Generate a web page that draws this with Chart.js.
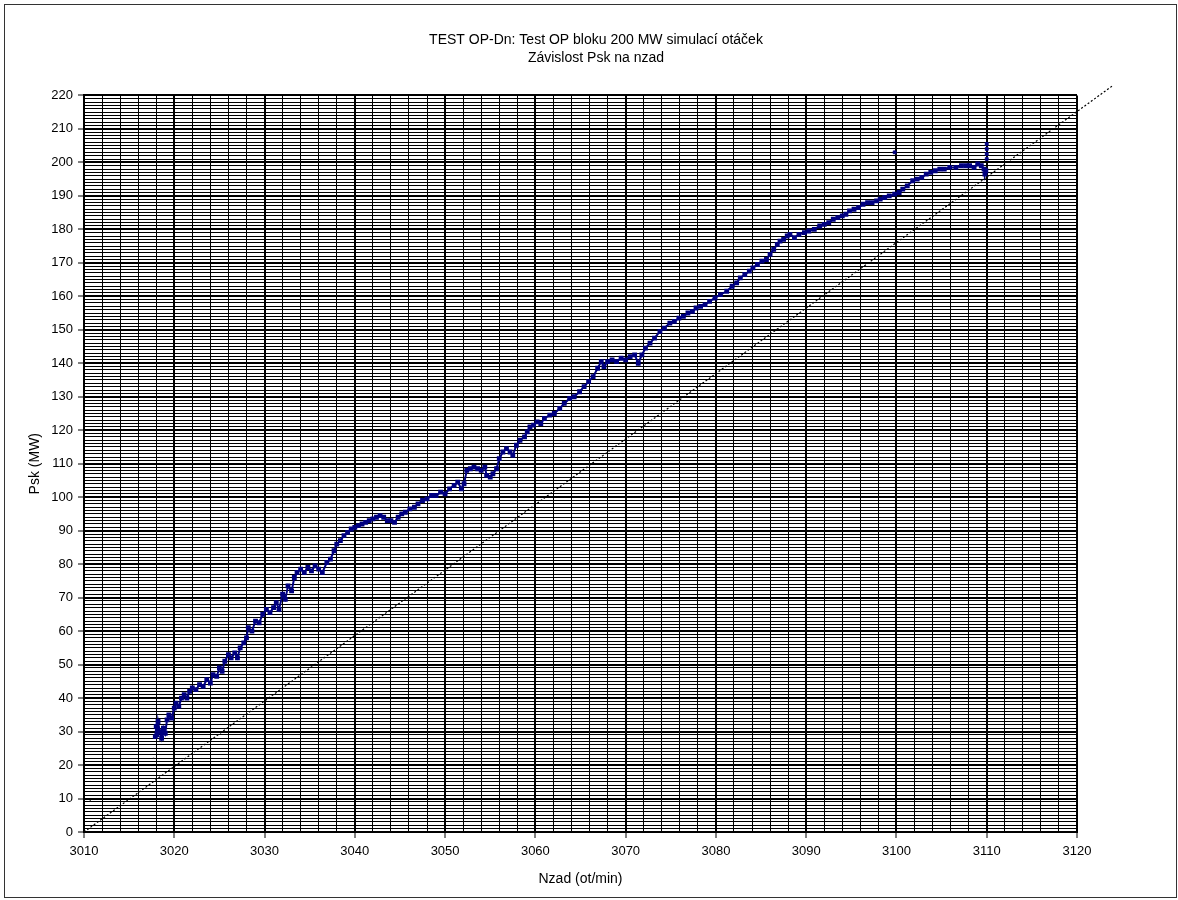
<!DOCTYPE html>
<html>
<head>
<meta charset="utf-8">
<script src="https://cdn.jsdelivr.net/npm/chart.js@4"></script>
<style>
  html, body { margin: 0; padding: 0; background: #fff; }
  #wrap { position: relative; width: 1178px; height: 900px; }
  #frame { position: absolute; left: 4px; top: 4px; width: 1173px; height: 894px;
           border: 1px solid #333; box-sizing: border-box; pointer-events: none; }
</style>
</head>
<body>
<div id="wrap">
  <canvas id="chart" width="1178" height="900"></canvas>
  <div id="frame"></div>
</div>
<script>
// Nzad (ot/min) vs Psk (MW)
const nzad = [
  3017.9, 3018.0, 3018.1, 3018.2, 3018.4, 3018.6, 3018.8, 3019.0, 3019.2, 3019.4,
  3019.7, 3020.0, 3020.2, 3020.5, 3020.8, 3021.1, 3021.4, 3021.7, 3022.0, 3022.4,
  3022.8, 3023.2, 3023.6, 3024.0, 3024.3, 3024.7, 3025.0, 3025.3, 3025.6, 3026.0,
  3026.3, 3026.7, 3027.0, 3027.3, 3027.7, 3028.0, 3028.2, 3028.6, 3029.0, 3029.4,
  3029.8, 3030.2, 3030.6, 3031.0, 3031.3, 3031.6, 3032.0, 3032.3, 3032.6, 3033.0,
  3033.3, 3033.6, 3034.0, 3034.4, 3034.8, 3035.2, 3035.6, 3036.0, 3036.4, 3036.9,
  3037.3, 3037.7, 3038.0, 3038.4, 3038.8, 3039.2, 3039.6, 3040.0, 3040.4, 3040.8,
  3041.2, 3041.6, 3042.0, 3042.4, 3042.8, 3043.2, 3043.6, 3044.0, 3044.4, 3044.8,
  3045.2, 3045.6, 3046.1, 3046.6, 3047.0, 3047.5, 3048.0, 3048.5, 3049.0, 3049.5,
  3050.0, 3050.5, 3051.0, 3051.4, 3051.8, 3052.1, 3052.4, 3052.8, 3053.2, 3053.6,
  3054.0, 3054.4, 3054.6, 3055.0, 3055.3, 3055.7, 3056.0, 3056.4, 3056.8, 3057.2,
  3057.5, 3057.9, 3058.3, 3058.8, 3059.1, 3059.4, 3059.8, 3060.2, 3060.6, 3061.0,
  3061.6, 3062.1, 3062.7, 3063.2, 3063.8, 3064.3, 3064.9, 3065.4, 3065.9, 3066.4,
  3066.9, 3067.3, 3067.6, 3068.0, 3068.5, 3069.0, 3069.5, 3070.0, 3070.5, 3071.0,
  3071.4, 3071.8, 3072.2, 3072.7, 3073.2, 3073.8, 3074.3, 3074.9, 3075.4, 3075.9,
  3076.4, 3076.9, 3077.4, 3077.8, 3078.3, 3078.8, 3079.3, 3079.9, 3080.5, 3081.2,
  3081.8, 3082.3, 3082.7, 3083.2, 3083.7, 3084.1, 3084.6, 3085.1, 3085.6, 3086.0,
  3086.4, 3086.8, 3087.1, 3087.5, 3087.9, 3088.2, 3088.7, 3089.2, 3089.8, 3090.3,
  3090.9, 3091.5, 3092.0, 3092.5, 3093.0, 3093.5, 3094.0, 3094.4, 3094.8, 3095.3,
  3095.8, 3096.3, 3096.8, 3097.3, 3097.8, 3098.2, 3098.7, 3099.2, 3099.8, 3100.3,
  3100.7, 3101.2, 3101.8, 3102.3, 3102.8, 3103.3, 3103.8, 3104.3, 3104.8, 3105.3,
  3105.9, 3106.6, 3107.2, 3107.7, 3108.1, 3108.6, 3109.0, 3109.4, 3109.7, 3109.8,
  3109.9
];
const psk = [
  28.5, 31.5, 29.0, 33.0, 30.0, 28.0, 31.0, 29.5, 33.5, 35.0,
  34.0, 37.0, 38.5, 37.5, 40.0, 41.0, 40.0, 42.0, 43.0, 42.5,
  44.0, 43.5, 45.5, 44.5, 47.0, 46.5, 49.0, 48.0, 51.0, 53.0,
  52.0, 53.5, 52.0, 55.0, 56.5, 58.0, 61.0, 60.0, 63.0, 62.5,
  65.0, 66.5, 65.5, 67.0, 68.5, 66.5, 71.0, 69.5, 73.5, 72.0,
  76.0, 77.5, 78.5, 77.5, 79.0, 78.0, 79.5, 78.5, 77.5, 80.5,
  81.5, 84.0, 86.0, 87.0, 88.5, 89.5, 90.5, 91.0, 91.5, 92.0,
  92.5, 93.0, 93.5, 94.0, 94.5, 94.0, 93.0, 93.0, 92.5, 94.0,
  95.0, 95.5, 96.5, 97.0, 98.0, 99.0, 99.5, 100.5, 100.5, 101.5,
  101.0, 102.5, 103.5, 104.5, 102.5, 104.0, 108.0, 108.5, 109.0, 108.5,
  108.0, 109.0, 106.5, 106.0, 107.0, 108.5, 111.5, 113.5, 114.5, 113.5,
  112.5, 115.5, 117.0, 118.0, 119.5, 121.0, 121.5, 122.5, 122.0, 123.5,
  124.5, 125.0, 126.5, 128.0, 129.5, 130.0, 131.5, 133.0, 134.5, 136.0,
  138.5, 140.5, 139.0, 140.5, 141.0, 140.5, 141.5, 141.0, 142.0, 142.5,
  140.0, 142.5, 144.5, 146.0, 147.5, 149.5, 150.5, 152.0, 152.5, 153.5,
  154.0, 155.0, 155.5, 156.5, 157.0, 157.5, 158.5, 159.5, 160.5, 161.5,
  163.0, 164.0, 165.5, 166.5, 167.5, 168.5, 169.5, 170.5, 171.0, 172.5,
  174.0, 175.5, 176.5, 177.0, 178.0, 178.5, 177.5, 178.5, 179.0, 179.5,
  180.0, 181.0, 181.5, 182.0, 183.0, 183.5, 184.0, 184.5, 185.5, 186.0,
  186.5, 187.5, 188.0, 188.0, 188.5, 189.0, 189.5, 190.0, 190.5, 191.0,
  192.0, 193.0, 194.5, 195.0, 195.5, 196.5, 197.0, 197.5, 198.0, 198.0,
  198.5, 198.5, 199.0, 199.0, 199.0, 198.5, 199.5, 199.0, 198.0, 196.5,
  197.5
];

// isolated readings above the trail (3100 and the spike at 3110)
const outX = [3099.8, 3110.0, 3110.0, 3110.0, 3110.0];
const outY = [203.0, 201.0, 202.5, 204.0, 205.5];

// two stray dots near the lower left
const strayX = [3010.7, 3017.7];
const strayY = [9.3, 22.0];

// dotted reference line (runs past the plot area at the top right)
const refX = [3010, 3124];
const refY = [0, 223];

// labelled ticks and the minor grid steps
const xMajor = [3010, 3020, 3030, 3040, 3050, 3060, 3070, 3080, 3090, 3100, 3110, 3120];
const yMajor = [0, 10, 20, 30, 40, 50, 60, 70, 80, 90, 100, 110, 120, 130, 140, 150, 160, 170, 180, 190, 200, 210, 220];
const xMinorStep = 2;
const yMinorStep = 1;

const titleLines = ['TEST OP-Dn: Test OP bloku 200 MW simulací otáček', 'Závislost Psk na nzad'];

const FONT = '"Liberation Sans", Arial, sans-serif';
const NAVY = '#000080';

function gridValues(major, step) {
  const out = [];
  const lo = major[0], hi = major[major.length - 1];
  for (let v = lo; v <= hi + 1e-9; v += step) out.push(Math.round(v * 100) / 100);
  return out;
}
const xTickValues = gridValues(xMajor, xMinorStep);
const yTickValues = gridValues(yMajor, yMinorStep);

const isMajorX = v => xMajor.includes(v);
const isMajorY = v => yMajor.includes(v);

function gridFor(isMajor) {
  return {
    color: '#000',
    lineWidth: c => (c.tick && isMajor(c.tick.value)) ? 2 : 1,
    tickLength: 6,
    tickWidth: 1,
    tickColor: c => (c.tick && isMajor(c.tick.value)) ? '#000' : 'rgba(0,0,0,0)'
  };
}

const pairs = (xs, ys) => xs.map((x, i) => ({ x: x, y: ys[i] }));

const canvas = document.getElementById('chart');

new Chart(canvas, {
  type: 'scatter',
  data: {
    datasets: [
      {
        label: 'Psk',
        data: pairs(nzad, psk),
        pointStyle: 'rect',
        pointRadius: 2,
        borderWidth: 2,
        backgroundColor: NAVY,
        borderColor: NAVY,
        showLine: true,
        tension: 0,
        order: 1
      },
      {
        label: 'outliers',
        data: pairs(outX, outY),
        pointStyle: 'rect',
        pointRadius: 2,
        borderWidth: 1,
        backgroundColor: NAVY,
        borderColor: NAVY,
        showLine: false,
        order: 2
      },
      {
        label: 'stray',
        data: pairs(strayX, strayY),
        pointStyle: 'rect',
        pointRadius: 1,
        borderWidth: 0,
        backgroundColor: '#111',
        showLine: false,
        order: 3
      },
      {
        label: 'ref',
        data: pairs(refX, refY),
        showLine: true,
        borderColor: '#000',
        borderWidth: 1.2,
        borderDash: [2, 2],
        pointRadius: 0,
        clip: false,
        order: 4
      }
    ]
  },
  options: {
    responsive: false,
    animation: false,
    layout: { padding: { left: 14, right: 0, top: 0, bottom: 0 } },
    plugins: {
      legend: { display: false },
      tooltip: { enabled: false },
      title: {
        display: true,
        text: titleLines,
        color: '#000',
        font: { family: FONT, size: 14, weight: 'normal', lineHeight: 1.3 },
        padding: { top: 31, bottom: 28 }
      }
    },
    scales: {
      x: {
        type: 'linear',
        min: 3010,
        max: 3120,
        afterBuildTicks: s => { s.ticks = xTickValues.map(v => ({ value: v })); },
        afterFit: s => { s.height = 68; },
        ticks: {
          autoSkip: false,
          maxRotation: 0,
          padding: 6,
          color: '#000',
          font: { family: FONT, size: 13 },
          callback: v => isMajorX(v) ? String(v) : ''
        },
        grid: gridFor(isMajorX),
        border: { display: true, color: '#000', width: 2 },
        title: {
          display: true,
          text: 'Nzad (ot/min)',
          color: '#000',
          font: { family: FONT, size: 14 },
          padding: { top: 0, bottom: 12 }
        }
      },
      y: {
        type: 'linear',
        min: 0,
        max: 220,
        afterBuildTicks: s => { s.ticks = yTickValues.map(v => ({ value: v })); },
        afterFit: s => { s.width = 70; },
        ticks: {
          autoSkip: false,
          padding: 5,
          color: '#000',
          font: { family: FONT, size: 13 },
          callback: v => isMajorY(v) ? String(v) : ''
        },
        grid: gridFor(isMajorY),
        border: { display: true, color: '#000', width: 2 },
        title: {
          display: true,
          text: 'Psk (MW)',
          color: '#000',
          font: { family: FONT, size: 14 },
          padding: { top: 13, bottom: 0 }
        }
      },
      yRight: {
        type: 'linear',
        position: 'right',
        min: 0,
        max: 220,
        afterFit: s => { s.width = 101; },
        ticks: { display: false },
        grid: { drawOnChartArea: false, drawTicks: false },
        border: { display: false }
      }
    }
  }
});
</script>
</body>
</html>
